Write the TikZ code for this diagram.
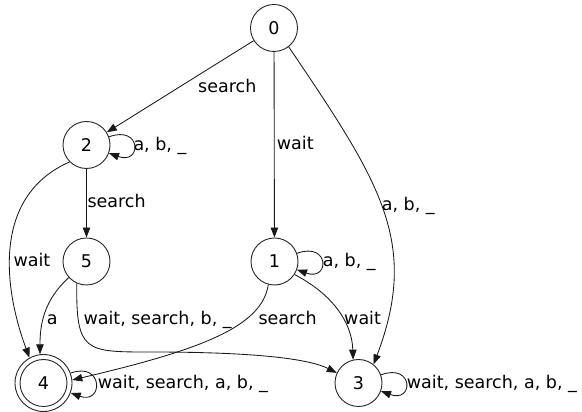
\documentclass[tikz,border=0pt]{standalone}
\usepackage{fontspec}
\setmainfont{DejaVu Sans}
\usetikzlibrary{arrows.meta}
\begin{document}
\begin{tikzpicture}[x=1pt,y=1pt,
  every node/.style={font=\fontsize{17.5}{21}\selectfont},
  state/.style={circle,draw=black!85,line width=0.9pt,minimum size=47pt,inner sep=0pt},
  accept/.style={state,minimum size=57pt},
  lbl/.style={inner sep=0pt,anchor=base west},
  tr/.style={-{Triangle[length=10pt,width=7.5pt]},line width=0.85pt,draw=black!90},
  selfloop/.style={out=20,in=-20,min distance=35pt}
]
\useasboundingbox (0,0) rectangle (582,412);

% states
\node[state]  (0) at (274,384)   {0};
\node[state]  (2) at (86.5,267)  {2};
\node[state]  (5) at (86.5,150.5){5};
\node[state]  (1) at (274.5,150.5){1};
\node[accept] (4) at (43.5,29)   {4};
\node[state]  (3) at (358.5,29)  {3};
\draw[draw=black!85,line width=0.9pt] (4.center) circle (23.5pt);

% transitions
\draw[tr] (0) -- (2);
\draw[tr] (0) -- (1);
\draw[tr] (0.-52) .. controls (380,230) and (420,170) .. (3.51);
\draw[tr] (2.225) .. controls (-10,215) and (5,120) .. (4.119);
\draw[tr] (2) -- (5);
\draw[tr] (5.222) .. controls (48,115) and (40,95) .. (4.97);
\draw[tr] (5.246) .. controls (76,60) and (85,60) .. (150,60)
                  .. controls (240,60) and (305,55) .. (3.155);
\draw[tr] (1.255) .. controls (262,85) and (200,62) .. (4.6);
\draw[tr] (1.-33) .. controls (332,118) and (352,90) .. (3.103);

% self loops
\draw[tr] (2.20) to[selfloop] (2.-20);
\draw[tr] (1.20) to[selfloop] (1.-20);
\draw[tr] (4.20) to[selfloop] (4.-20);
\draw[tr] (3.20) to[selfloop] (3.-20);

% labels
\node[lbl] (l02) at (198,319.7)  {search};
\node[lbl] (l01) at (276.7,262)  {wait};
\node[lbl] (l03) at (381.7,201)  {a, b, \_};
\node[lbl] (l22) at (133.3,261)  {a, b, \_};
\node[lbl] (l25) at (87.3,204)   {search};
\node[lbl] (l24) at (13.3,145.3) {wait};
\node[lbl] (l11) at (322.7,145.3){a, b, \_};
\node[lbl] (l54) at (46.7,87)    {a};
\node[lbl] (l53) at (83.3,87)    {wait, search, b, \_};
\node[lbl] (l14) at (258.3,87)   {search};
\node[lbl] (l13) at (344,87)     {wait};
\node[lbl] (l44) at (97.7,23.7)  {wait, search, a, b, \_};
\node[lbl] (l33) at (406.7,23.7) {wait, search, a, b, \_};
\end{tikzpicture}
\end{document}
